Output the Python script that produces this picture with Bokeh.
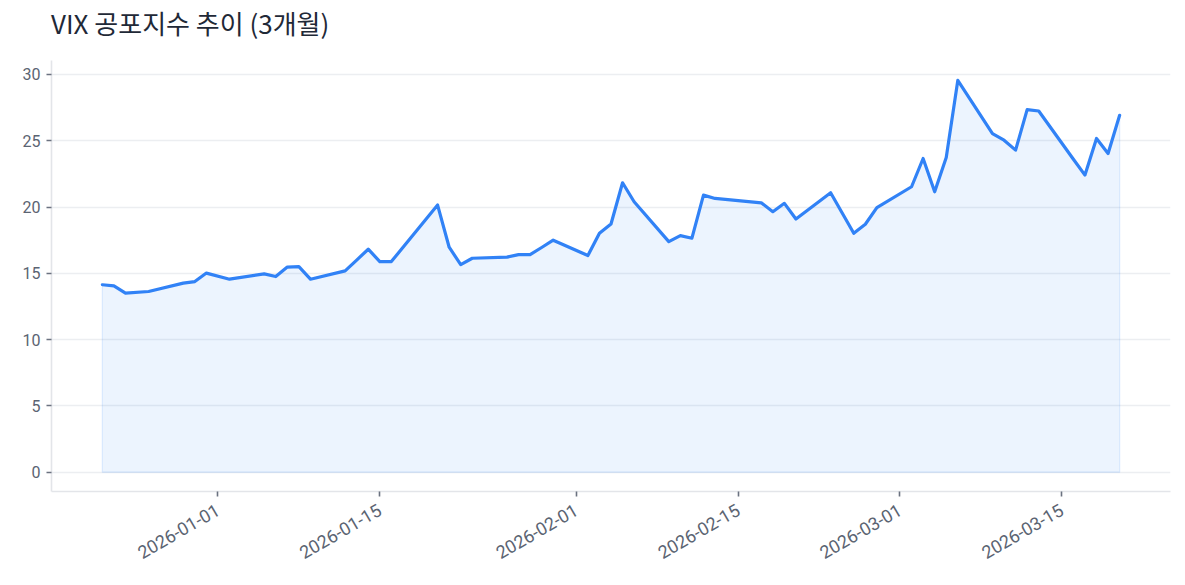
import math
import datetime

from bokeh.plotting import figure
from bokeh.layouts import column
from bokeh.models import Range1d, FixedTicker, DatetimeTickFormatter, Div
from bokeh.embed import file_html
from bokeh.resources import INLINE

# VIX closes, last 3 months (trading days only)
dates = [
    "2025-12-22", "2025-12-23", "2025-12-24", "2025-12-26", "2025-12-29",
    "2025-12-30", "2025-12-31", "2026-01-02", "2026-01-05", "2026-01-06",
    "2026-01-07", "2026-01-08", "2026-01-09", "2026-01-12", "2026-01-13",
    "2026-01-14", "2026-01-15", "2026-01-16", "2026-01-20", "2026-01-21",
    "2026-01-22", "2026-01-23", "2026-01-26", "2026-01-27", "2026-01-28",
    "2026-01-29", "2026-01-30", "2026-02-02", "2026-02-03", "2026-02-04",
    "2026-02-05", "2026-02-06", "2026-02-09", "2026-02-10", "2026-02-11",
    "2026-02-12", "2026-02-13", "2026-02-17", "2026-02-18", "2026-02-19",
    "2026-02-20", "2026-02-23", "2026-02-24", "2026-02-25", "2026-02-26",
    "2026-02-27", "2026-03-02", "2026-03-03", "2026-03-04", "2026-03-05",
    "2026-03-06", "2026-03-09", "2026-03-10", "2026-03-11", "2026-03-12",
    "2026-03-13", "2026-03-16", "2026-03-17", "2026-03-18", "2026-03-19",
    "2026-03-20",
]
vix = [
    14.14, 14.06, 13.51, 13.63, 14.26,
    14.38, 15.02, 14.56, 14.96, 14.76,
    15.47, 15.51, 14.56, 15.19, 16.00,
    16.82, 15.89, 15.89, 20.15, 16.97,
    15.66, 16.14, 16.22, 16.41, 16.41,
    16.95, 17.50, 16.34, 18.02, 18.72,
    21.83, 20.40, 17.39, 17.84, 17.65,
    20.90, 20.65, 20.32, 19.65, 20.28,
    19.10, 21.08, 19.55, 18.02, 18.70,
    19.95, 21.53, 23.66, 21.15, 23.74,
    29.55, 25.54, 25.04, 24.29, 27.35,
    27.24, 23.60, 22.41, 25.17, 24.04,
    26.92,
]
tick_dates = ["2026-01-01", "2026-01-15", "2026-02-01", "2026-02-15", "2026-03-01", "2026-03-15"]
y_ticks = [0, 5, 10, 15, 20, 25, 30]
title = "VIX 공포지수 추이 (3개월)"

x = [datetime.datetime.fromisoformat(d) for d in dates]
ticks_ms = [datetime.datetime.fromisoformat(d).replace(tzinfo=datetime.timezone.utc).timestamp() * 1000
            for d in tick_dates]

span = x[-1] - x[0]
pad = span * 0.05

head = Div(text=title, width=1177, height=60, margin=(0, 0, 0, 0),
           styles={"font-family": "Noto Sans CJK KR", "font-size": "26px",
                   "color": "#1f2937", "padding-left": "51px",
                   "line-height": "46px", "white-space": "nowrap"})

p = figure(width=1177, height=517, x_axis_type="datetime",
           output_backend="svg", toolbar_location=None,
           x_range=Range1d(x[0] - pad, x[-1] + pad),
           y_range=Range1d(-1.45, 31.05),
           min_border_left=51, min_border_right=7, min_border_top=0, min_border_bottom=86)
p.margin = (0, 0, 0, 0)

blue = "#3182f6"
# area under the line, closed down to zero
area_x = [x[0]] + x + [x[-1]]
area_y = [0] + vix + [0]
p.patch(area_x, area_y, fill_color=blue, fill_alpha=0.09,
        line_color=blue, line_alpha=0.13, line_width=1.3)
p.line(x, vix, line_color=blue, line_width=3.2, line_join="round", line_cap="round")

p.outline_line_color = None
p.xgrid.grid_line_color = None
p.ygrid.grid_line_color = "#eceef1"
p.ygrid.grid_line_width = 1.3

for ax in (p.xaxis, p.yaxis):
    ax.axis_line_color = "#e3e5e9"
    ax.axis_line_width = 1.6
    ax.major_tick_line_color = "#6b7280"
    ax.major_tick_line_width = 1.6
    ax.major_tick_in = 0
    ax.major_tick_out = 5
    ax.minor_tick_line_color = None
    ax.major_label_text_font = "Roboto"
    ax.major_label_text_color = "#5b6472"

p.yaxis.major_label_text_font_size = "16px"
p.xaxis.major_label_text_font_size = "18px"
p.yaxis.ticker = FixedTicker(ticks=y_ticks)
p.yaxis.major_label_standoff = 6
p.xaxis.ticker = FixedTicker(ticks=ticks_ms)
p.xaxis.formatter = DatetimeTickFormatter(days="%Y-%m-%d", months="%Y-%m-%d")
p.xaxis.major_label_orientation = math.pi / 6
p.xaxis.major_label_standoff = 12

layout = column(head, p, spacing=0)
open("out.html", "w").write(file_html(layout, INLINE))
